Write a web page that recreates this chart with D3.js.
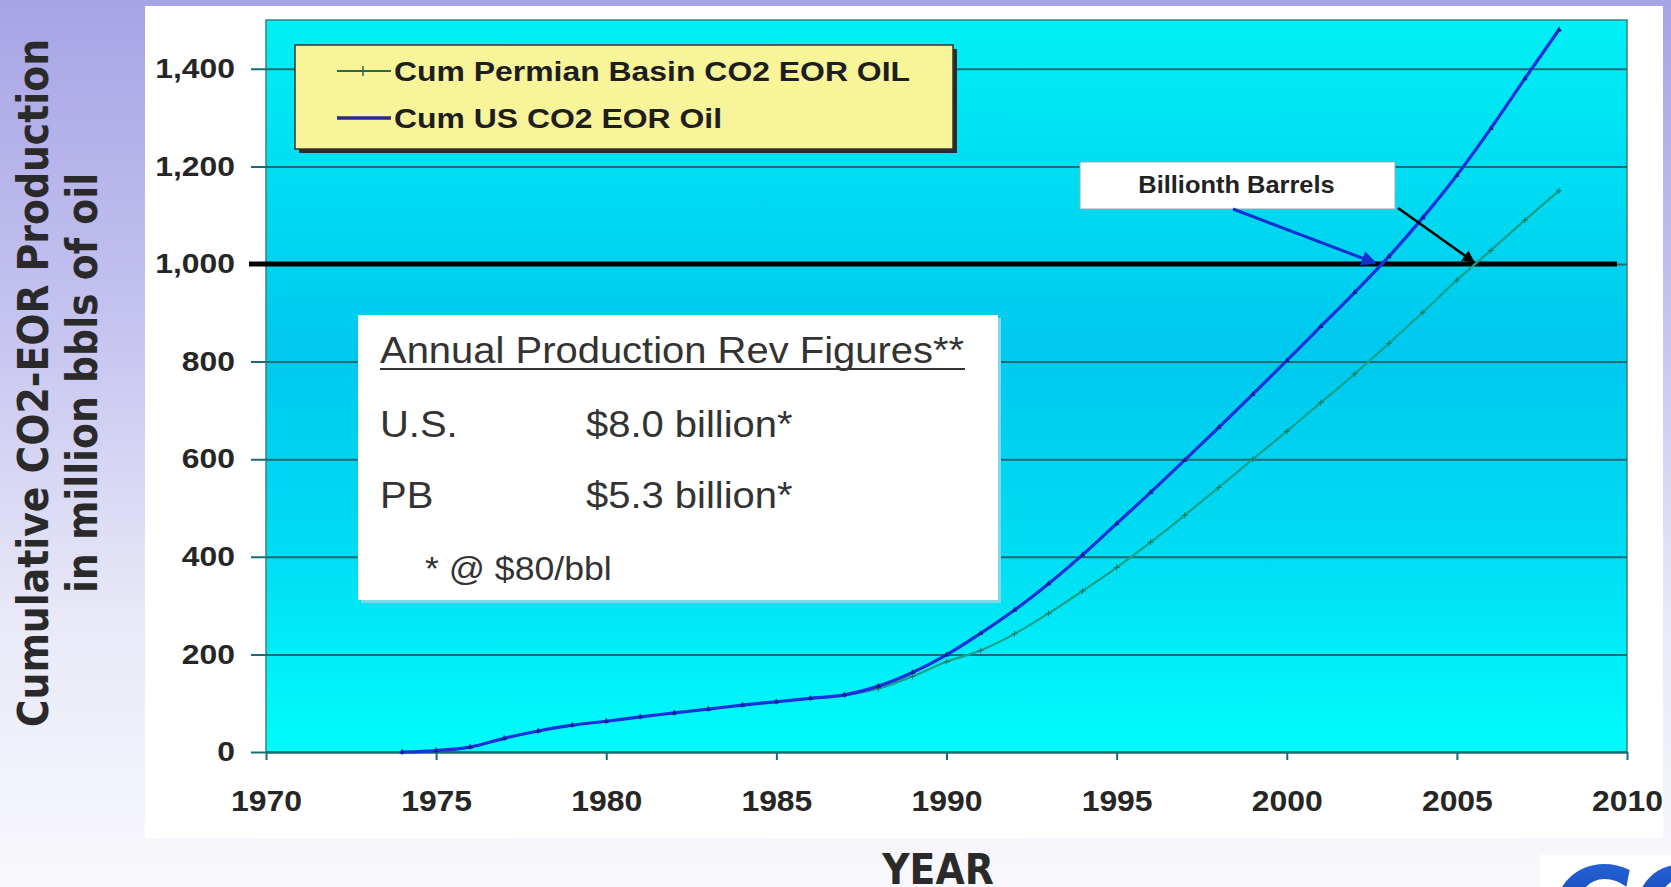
<!DOCTYPE html>
<html>
<head>
<meta charset="utf-8">
<script src="https://cdn.jsdelivr.net/npm/d3@7"></script>
<style>
    body { margin: 0; overflow: hidden; background: #fff; }
    svg { display: block; }
</style>
</head>
<body>
<svg id="chart"></svg>
<script>
// values (million bbls, cumulative)
const years = [1974, 1975, 1976, 1977, 1978, 1979, 1980, 1981, 1982, 1983, 1984, 1985, 1986, 1987,
    1988, 1989, 1990, 1991, 1992, 1993, 1994, 1995, 1996, 1997, 1998, 1999, 2000, 2001, 2002,
    2003, 2004, 2005, 2006, 2007, 2008];
const usCum = [0, 3, 10, 28, 43, 55, 63, 72, 80, 88, 96, 103, 110, 117,
    135, 163, 199, 243, 291, 345, 404, 468, 532, 598, 665, 733, 802, 872, 942,
    1015, 1095, 1182, 1278, 1380, 1480];
const pbCum = [0, 3, 10, 28, 43, 55, 63, 72, 80, 88, 96, 103, 110, 116,
    130, 155, 185, 208, 242, 284, 330, 378, 430, 485, 542, 600, 657, 716, 775,
    837, 901, 967, 1028, 1090, 1150];
const seriesNames = ["Cum Permian Basin CO2 EOR OIL", "Cum US CO2 EOR Oil"];
const yTicks = [0, 200, 400, 600, 800, 1000, 1200, 1400];
const xTicks = [1970, 1975, 1980, 1985, 1990, 1995, 2000, 2005, 2010];
const billionLevel = 1000;
const billionYears = [2002.6, 2005.5];   // where the US / PB curves reach 1,000
const revTitle = "Annual Production Rev Figures**";
const revLabels = ["U.S.", "PB"];
const revValues = ["$8.0 billion*", "$5.3 billion*"];
const revNote = "* @ $80/bbl";

const W = 1671, H = 887;
const svg = d3.select("#chart").attr("width", W).attr("height", H);
const defs = svg.append("defs");

function vgrad(id, stops) {
    const g = defs.append("linearGradient").attr("id", id)
        .attr("x1", 0).attr("y1", 0).attr("x2", 0).attr("y2", 1);
    stops.forEach(s => g.append("stop").attr("offset", s[0]).attr("stop-color", s[1]));
}
vgrad("bg", [[0, "#a7a4e6"], [0.35, "#c4c2ef"], [0.7, "#e9e9f8"], [1, "#f8f8fc"]]);
vgrad("plotbg", [[0, "#00f0f5"], [0.45, "#00c8ee"], [0.72, "#00dcf3"], [1, "#00fcfc"]]);
vgrad("logo", [[0, "#2a6ee0"], [0.6, "#123fb0"], [1, "#0a2a8a"]]);

function arrowHead(id, color) {
    defs.append("marker").attr("id", id)
        .attr("viewBox", "0 0 10 10").attr("refX", 9).attr("refY", 5)
        .attr("markerWidth", 5).attr("markerHeight", 5)
        .attr("markerUnits", "strokeWidth").attr("orient", "auto")
        .append("path").attr("d", "M0,0L10,5L0,10z").attr("fill", color);
}
arrowHead("headBlue", "#1530d0");
arrowHead("headBlack", "#000");

// stretch text horizontally around its anchor (the pasted chart image is widened)
function stretch(sel, sx) {
    sel.each(function () {
        const t = d3.select(this);
        const x = +t.attr("x") || 0, y = +t.attr("y") || 0;
        t.attr("x", null).attr("y", null)
            .attr("transform", "translate(" + x + "," + y + ") scale(" + sx + ",1)");
    });
}

// slide background + white card
svg.append("rect").attr("width", W).attr("height", H).attr("fill", "url(#bg)");
svg.append("rect").attr("x", 145).attr("y", 6).attr("width", 1518).attr("height", 832).attr("fill", "#fff");

const x = d3.scaleLinear().domain([1970, 2010]).range([266, 1627]);
const y = d3.scaleLinear().domain([0, 1500]).range([752, 20]);

svg.append("rect")
    .attr("x", x(1970)).attr("y", y(1500))
    .attr("width", x(2010) - x(1970)).attr("height", y(0) - y(1500))
    .attr("fill", "url(#plotbg)")
    .attr("stroke", "#3b7f86").attr("stroke-width", 1.5);

// y axis with gridlines running across the plot
const yAxis = svg.append("g")
    .attr("transform", "translate(" + (x(1970) - 15) + ",0)")
    .call(d3.axisLeft(y).tickValues(yTicks).tickFormat(d3.format(","))
        .tickSizeInner(-(x(2010) - x(1970) + 15)).tickSizeOuter(0).tickPadding(16));
yAxis.select(".domain").remove();
yAxis.selectAll(".tick line").attr("stroke", "#1b6c76").attr("stroke-width", 2);
yAxis.selectAll(".tick text")
    .attr("fill", "#262626").attr("font-family", "'Liberation Sans', Arial, sans-serif")
    .attr("font-weight", "bold").attr("font-size", 27).call(stretch, 1.18);

const xAxis = svg.append("g")
    .attr("transform", "translate(0," + y(0) + ")")
    .call(d3.axisBottom(x).tickValues(xTicks).tickFormat(d3.format("d"))
        .tickSizeInner(8).tickSizeOuter(0).tickPadding(30));
xAxis.select(".domain").attr("stroke", "#1b6c76").attr("stroke-width", 2);
xAxis.selectAll(".tick line").attr("stroke", "#1b6c76").attr("stroke-width", 2);
xAxis.selectAll(".tick text")
    .attr("fill", "#262626").attr("font-family", "'Liberation Sans', Arial, sans-serif")
    .attr("font-weight", "bold").attr("font-size", 29).call(stretch, 1.1);

// the billion barrel line
svg.append("line")
    .attr("x1", x(1970) - 17).attr("x2", x(2010) - 10)
    .attr("y1", y(billionLevel)).attr("y2", y(billionLevel))
    .attr("stroke", "#000").attr("stroke-width", 5);

// series
const line = d3.line().curve(d3.curveMonotoneX)
    .x((d, i) => x(years[i])).y(d => y(d));

svg.append("path").datum(pbCum)
    .attr("fill", "none").attr("stroke", "#17a08c").attr("stroke-width", 2.2)
    .attr("d", line);
svg.append("g").selectAll("path").data(pbCum).join("path")
    .attr("transform", (d, i) => "translate(" + x(years[i]) + "," + y(d) + ")")
    .attr("d", "M-3,0H3M0,-3V3").attr("stroke", "#157a6c").attr("stroke-width", 1);

svg.append("path").datum(usCum)
    .attr("fill", "none").attr("stroke", "#1a30dc").attr("stroke-width", 3.2)
    .attr("d", line);
svg.append("g").selectAll("path").data(usCum).join("path")
    .attr("transform", (d, i) => "translate(" + x(years[i]) + "," + y(d) + ")")
    .attr("d", d3.symbol(d3.symbolTriangle, 14)).attr("fill", "#13209a");

// legend
const legend = svg.append("g").attr("transform", "translate(295,45)");
legend.append("rect").attr("x", 4).attr("y", 4).attr("width", 658).attr("height", 104).attr("fill", "#2b2b2b");
legend.append("rect").attr("width", 658).attr("height", 104)
    .attr("fill", "#f8f49a").attr("stroke", "#333").attr("stroke-width", 1.5);
const legendColors = ["#2a6a4c", "#2a2a8c"];
seriesNames.forEach((name, i) => {
    const ly = 26 + i * 47;
    legend.append("line").attr("x1", 42).attr("x2", 96).attr("y1", ly).attr("y2", ly)
        .attr("stroke", legendColors[i]).attr("stroke-width", i ? 3.5 : 2);
    if (i === 0) {
        legend.append("line").attr("x1", 68).attr("x2", 68).attr("y1", ly - 5).attr("y2", ly + 5)
            .attr("stroke", legendColors[i]).attr("stroke-width", 1.5);
    }
    legend.append("text").attr("x", 99).attr("y", ly + 10)
        .attr("font-family", "'Liberation Sans', Arial, sans-serif").attr("font-weight", "bold")
        .attr("font-size", 28).attr("fill", "#1e1e1e").text(name).call(stretch, 1.14);
});

// revenue box
const rev = svg.append("g").attr("transform", "translate(358,315)");
rev.append("rect").attr("x", 3).attr("y", 3).attr("width", 640).attr("height", 285).attr("fill", "#7fd8ea");
rev.append("rect").attr("width", 640).attr("height", 285).attr("fill", "#fff");
const revFont = "'Liberation Sans', Arial, sans-serif";
rev.append("text").attr("x", 22).attr("y", 48).attr("font-family", revFont)
    .attr("font-size", 37).attr("fill", "#333").text(revTitle).call(stretch, 1.08);
rev.append("line").attr("x1", 22).attr("x2", 607).attr("y1", 54).attr("y2", 54)
    .attr("stroke", "#333").attr("stroke-width", 2);
revLabels.forEach((lab, i) => {
    const by = 122 + i * 71;
    rev.append("text").attr("x", 22).attr("y", by).attr("font-family", revFont)
        .attr("font-size", 37).attr("fill", "#333").text(lab).call(stretch, 1.08);
    rev.append("text").attr("x", 228).attr("y", by).attr("font-family", revFont)
        .attr("font-size", 37).attr("fill", "#333").text(revValues[i]).call(stretch, 1.08);
});
rev.append("text").attr("x", 67).attr("y", 265).attr("font-family", revFont)
    .attr("font-size", 33).attr("fill", "#333").text(revNote).call(stretch, 1.08);

// "Billionth Barrels" callout
const bb = {x: 1080, y: 162, w: 315, h: 47};
svg.append("rect").attr("x", bb.x).attr("y", bb.y).attr("width", bb.w).attr("height", bb.h)
    .attr("fill", "#fff").attr("stroke", "#9aa").attr("stroke-width", 1);
svg.append("text").attr("x", bb.x + bb.w / 2 - 1).attr("y", bb.y + 31)
    .attr("text-anchor", "middle").attr("font-family", "'Liberation Sans', Arial, sans-serif")
    .attr("font-weight", "bold").attr("font-size", 24).attr("fill", "#222")
    .text("Billionth Barrels").call(stretch, 1.06);
svg.append("line")
    .attr("x1", bb.x + 153).attr("y1", bb.y + bb.h)
    .attr("x2", x(billionYears[0])).attr("y2", y(billionLevel) - 1)
    .attr("stroke", "#1530d0").attr("stroke-width", 3).attr("marker-end", "url(#headBlue)");
svg.append("line")
    .attr("x1", bb.x + bb.w + 3).attr("y1", bb.y + bb.h - 1)
    .attr("x2", x(billionYears[1])).attr("y2", y(billionLevel) - 2)
    .attr("stroke", "#000").attr("stroke-width", 2.5).attr("marker-end", "url(#headBlack)");

// slide titles
const slideFont = "'DejaVu Sans Condensed', 'DejaVu Sans', sans-serif";
const yTitle = svg.append("text")
    .attr("transform", "translate(0,383) rotate(-90)")
    .attr("text-anchor", "middle").attr("font-family", slideFont)
    .attr("font-stretch", "condensed").attr("font-weight", "bold")
    .attr("font-size", 42).attr("fill", "#2a2a2a");
yTitle.append("tspan").attr("x", 0).attr("y", 48).text("Cumulative CO2-EOR Production");
yTitle.append("tspan").attr("x", 0).attr("y", 97).text("in million bbls of oil");

svg.append("text").attr("x", 938).attr("y", 884)
    .attr("text-anchor", "middle").attr("font-family", slideFont)
    .attr("font-stretch", "condensed").attr("font-weight", "bold")
    .attr("font-size", 42).attr("fill", "#2a2a2a").text("YEAR");

// corner logo, mostly below the bottom edge
svg.append("rect").attr("x", 1540).attr("y", 855).attr("width", 131).attr("height", 32).attr("fill", "#fff");
svg.append("text").attr("x", 1550).attr("y", 946)
    .attr("font-family", "'DejaVu Sans', sans-serif").attr("font-weight", "bold")
    .attr("font-style", "italic").attr("font-size", 110).attr("fill", "url(#logo)").text("CO");
</script>
</body>
</html>
